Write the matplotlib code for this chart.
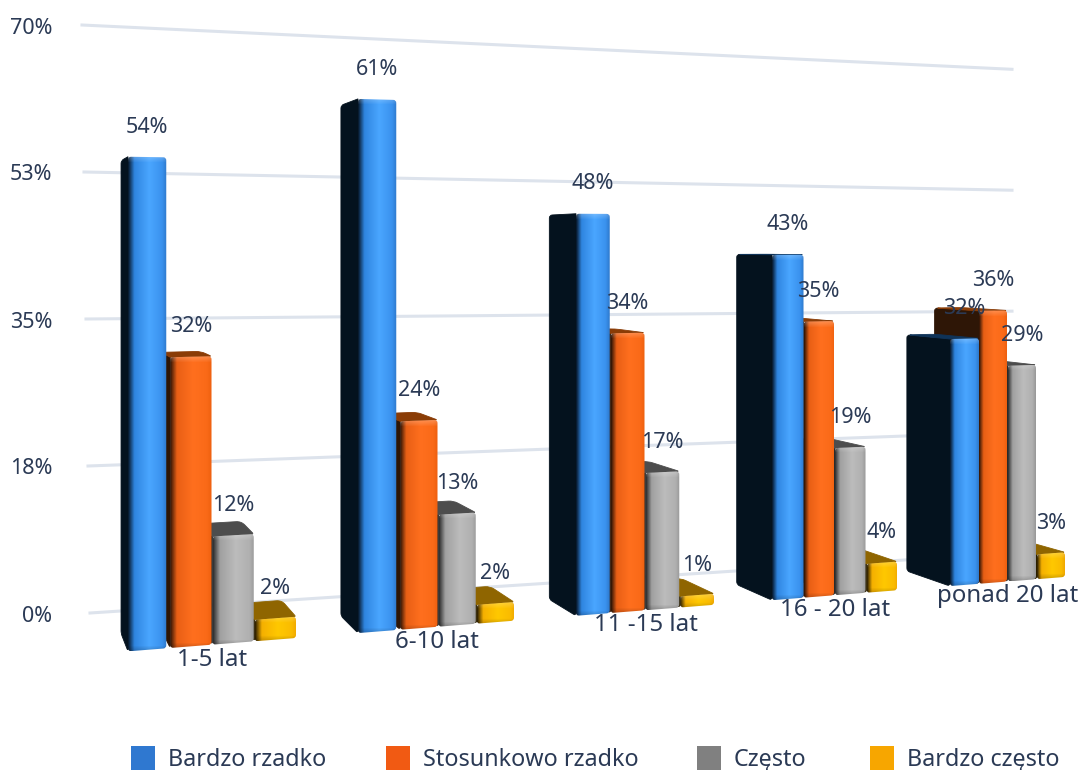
import numpy as np
import matplotlib
matplotlib.use('Agg')
import matplotlib.pyplot as plt
from matplotlib.colors import LinearSegmentedColormap
from matplotlib.patches import PathPatch, Rectangle
from matplotlib.path import Path

# data
categories = ['1-5 lat', '6-10 lat', '11 -15 lat', '16 - 20 lat', 'ponad 20 lat']
series_names = ['Bardzo rzadko', 'Stosunkowo rzadko', 'Często', 'Bardzo często']
bardzo_rzadko = [54, 61, 48, 43, 32]
stosunkowo_rzadko = [32, 24, 34, 35, 36]
czesto = [12, 13, 17, 19, 29]
bardzo_czesto = [2.4, 2.2, 1.4, 3.8, 3.4]
tick_values = [0, 17.5, 35, 52.5, 70]
tick_labels = ['0%', '18%', '35%', '53%', '70%']

values = [bardzo_rzadko, stosunkowo_rzadko, czesto, bardzo_czesto]

# look of the bars
legend_colors = ['#2f78d0', '#f15a13', '#808080', '#f7a600']
face_stops = [
    ['#07182c', '#2f85e0', '#4aa6ff', '#3a92ee', '#2e79cc'],
    ['#2e1405', '#e85f15', '#ff6f1e', '#fa6a18', '#ee600f'],
    ['#303030', '#a0a0a0', '#bcbcbc', '#b0b0b0', '#989898'],
    ['#2e2000', '#f5b000', '#ffc800', '#fabc00', '#f0a800'],
]
side_colors = ['#04121e', '#2e1606', '#2a2a2a', '#2a1e00']
top_colors = ['#0f3358', '#8a3c06', '#4d4d4d', '#8f6500']
text_color = '#2b3a55'
grid_color = '#dde3ec'

# layout of the perspective, in pixels
group_left = [128, 358, 576, 772, 950]
group_width = [169, 157, 139, 126, 116]
blue_trim = [4, 0, 1, 0, 0]
blue_gap = [0, 4, 0, 0, 0]
VP_X, VP_Y, DEPTH = -30, 245, 0.044


def baseline(x):
    return 650 - 0.0794 * (x - 145)


def unit(x, g, s):
    u = 9.13 - 0.00175 * (x - 145)
    if g >= 2:
        u -= 0.09 * s
    return u


def back(x, y):
    return x + (VP_X - x) * DEPTH, y + (VP_Y - y) * DEPTH


def grid_y(v, side):
    if side == 'left':
        return 613 - v * 8.4
    return 553 - v * 6.91


def bar_span(g, s):
    slot = (group_width[g] - blue_gap[g]) / 4
    if s == 0:
        return group_left[g], group_left[g] + slot - blue_trim[g]
    x0 = group_left[g] + blue_gap[g] + s * slot
    return x0, x0 + slot - 1


def rounded(points, radii):
    # closed path through the points with the corners cut by small curves
    verts, codes = [], []
    n = len(points)
    for i in range(n):
        p = np.array(points[i], dtype=float)
        prev = np.array(points[i - 1], dtype=float)
        nxt = np.array(points[(i + 1) % n], dtype=float)
        r1 = min(radii[i], np.linalg.norm(prev - p) / 2)
        r2 = min(radii[i], np.linalg.norm(nxt - p) / 2)
        a = p + (prev - p) / max(np.linalg.norm(prev - p), 1e-6) * r1
        b = p + (nxt - p) / max(np.linalg.norm(nxt - p), 1e-6) * r2
        verts += [a, p, b]
        codes += [Path.MOVETO if i == 0 else Path.LINETO, Path.CURVE3, Path.CURVE3]
    verts.append(verts[0])
    codes.append(Path.CLOSEPOLY)
    return Path(verts, codes)


def face_image(stops, height):
    # side to side shading, with a lighter rim on top and a darker one at the foot
    cmap = LinearSegmentedColormap.from_list('face', list(zip([0, 0.16, 0.55, 0.88, 1], stops)))
    rows = max(int(height), 2)
    img = np.tile(cmap(np.linspace(0, 1, 64))[:, :3], (rows, 1, 1))
    depth = np.arange(rows)
    light = np.clip(1 - depth / 6, 0, 1)[:, None, None] * 0.22
    dark = np.clip(1 - (rows - 1 - depth) / 5, 0, 1)[:, None, None] * 0.18
    return img * (1 - light) * (1 - dark) + light


plt.rcParams['font.family'] = ['Noto Sans', 'DejaVu Sans']
fig = plt.figure(figsize=(10.81, 7.70), dpi=100)
ax = fig.add_axes([0, 0, 1, 1])

# grid lines and axis labels
for v, lab in zip(tick_values, tick_labels):
    x0 = 90 - v * 8 / 70
    ax.plot([x0, 1012], [grid_y(v, 'left'), grid_y(v, 'right')], color=grid_color, lw=2.2, zorder=1)
    ax.text(52, grid_y(v, 'left') + 3, lab, ha='right', va='center', fontsize=15.5, color=text_color)

# bars, right to left so each one hides the side of its neighbour
z = 2
for g, cat in enumerate(categories):
    for s in range(3, -1, -1):
        v = values[s][g]
        x0, x1 = bar_span(g, s)
        y0b, y1b = baseline(x0), baseline(x1)
        y0t, y1t = y0b - v * unit(x0, g, s), y1b - v * unit(x1, g, s)

        bx0b, by0b = back(x0, y0b)
        bx0t, by0t = back(x0, y0t)
        bx1t, by1t = back(x1, y1t)

        ax.add_patch(PathPatch(rounded([(x0, y0t), (x0, y0b), (bx0b, by0b), (bx0t, by0t)], [0, 3, 3, 3]),
                               fc=side_colors[s], ec=side_colors[s], lw=0.6, zorder=z))
        if by0t < y0t:
            ax.add_patch(PathPatch(rounded([(x0, y0t), (x1, y1t), (bx1t, by1t), (bx0t, by0t)], [0, 2, 5, 5]),
                                   fc=top_colors[s], ec=top_colors[s], lw=0.6, zorder=z))

        top = min(y0t, y1t)
        bot = max(y0b, y1b)
        im = ax.imshow(face_image(face_stops[s], bot - top), aspect='auto',
                       extent=[x0, x1, bot, top], zorder=z + 0.5)
        im.set_clip_path(PathPatch(rounded([(x0, y0t), (x1, y1t), (x1, y1b), (x0, y0b)], [3, 3, 3, 3]),
                                   transform=ax.transData))
        z += 1

# value labels and category labels
for g, cat in enumerate(categories):
    for s in range(4):
        v = values[s][g]
        x0, x1 = bar_span(g, s)
        xc = (x0 + x1) / 2
        ytop = baseline(xc) - v * unit(xc, g, s)
        ax.text(xc, ytop - 30, f'{round(v)}%', ha='center', va='center',
                fontsize=15.5, color=text_color, zorder=100)
    xc = group_left[g] + group_width[g] / 2
    ax.text(xc, baseline(xc) + 15, cat, ha='center', va='center',
            fontsize=17.3, color=text_color, zorder=100)

# legend
swatch_x = [131, 386, 697, 870]
for x, name, col in zip(swatch_x, series_names, legend_colors):
    ax.add_patch(Rectangle((x, 746), 24, 24, fc=col, ec='none', zorder=100))
    ax.text(x + 37, 760, name, ha='left', va='center', fontsize=16.8, color=text_color, zorder=100)

ax.set_xlim(0, 1081)
ax.set_ylim(770, 0)
ax.axis('off')

fig.savefig('out.png', dpi=100)
